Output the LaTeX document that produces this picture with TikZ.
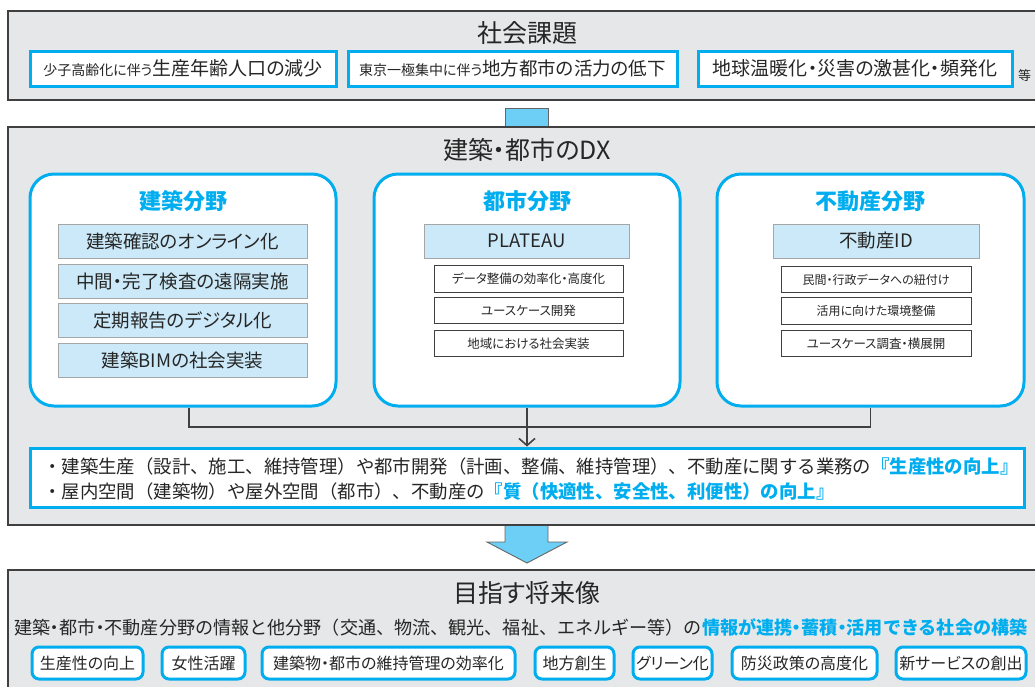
\documentclass[tikz,border=0pt]{standalone}
\usepackage{fontspec}
\usetikzlibrary{arrows.meta}
\setmainfont{Noto Sans CJK JP}[RawFeature={+palt}]
\newfontfamily\fullwidth{Noto Sans CJK JP}
\definecolor{bgray}{HTML}{E6E7E8}
\definecolor{cblue}{HTML}{00AEEF}
\definecolor{lblue}{HTML}{CBE9F8}
\definecolor{ablue}{HTML}{6DCFF6}
\definecolor{dline}{HTML}{404040}
\definecolor{txt}{HTML}{262626}
\tikzset{
  section/.style={draw=dline, line width=1.1pt, fill=bgray, inner sep=0pt},
  sectitle/.style={font=\fontsize{25}{25}\selectfont, inner sep=0pt, text=txt},
  issue/.style={draw=cblue, line width=3pt, fill=white, inner sep=0pt, minimum height=35, text=txt},
  panel/.style={draw=cblue, line width=3pt, fill=white, rounded corners=24pt, inner sep=0pt, minimum height=232},
  ptitle/.style={font=\bfseries\fontsize{22}{22}\selectfont, text=cblue, inner sep=0pt},
  item/.style={draw=black!35, line width=0.8pt, fill=lblue, minimum height=34, inner sep=0pt, text=txt, font=\fontsize{18.5}{18.5}\selectfont},
  subbox/.style={draw=dline, line width=1pt, fill=white, minimum height=26.5, inner sep=0pt, text=txt, font=\fontsize{12.5}{12.5}\selectfont},
  pill/.style={draw=cblue, line width=3pt, fill=white, rounded corners=7pt, minimum height=32, inner sep=0pt, text=txt, font=\fontsize{16}{16}\selectfont},
  plain/.style={inner sep=0pt, text=txt},
  conn/.style={draw=dline, line width=1.6pt},
  blockarrow/.style={fill=ablue, draw=black!60, line width=0.9pt}
}
\newcommand{\fsz}[1]{\fontsize{#1}{#1}\selectfont}
\newcommand{\nd}{{\rmfamily ・}}
\begin{document}
\begin{tikzpicture}[x=1pt,y=-1pt]
\clip (0,0) rectangle (1035,686);
\fill[white] (0,0) rectangle (1035,686);

% ---------- top section ----------
\node[section, minimum width=1037, minimum height=89] (top) at (526.5,55.5) {};
\node[sectitle] (toptitle) at (527,33) {社会課題};
\node[issue, minimum width=306] (i1) at (183,68.5) {{\fsz{14}少子高齢化に伴う}{\fsz{19}生産年齢人口の減少}};
\node[issue, minimum width=329] (i2) at (512.5,68.5) {{\fsz{14}東京一極集中に伴う}{\fsz{18.5}地方都市の活力の低下}};
\node[issue, minimum width=314] (i3) at (855,68.5) {\fsz{19}地球温暖化・災害の激甚化・頻発化};
\node[plain, anchor=west, font=\fsz{13}] (etc) at (1018,76) {等};

\node[blockarrow, minimum width=43, minimum height=20, inner sep=0pt] (link) at (526.5,118) {};

% ---------- middle section ----------
\node[section, minimum width=1037, minimum height=398] (mid) at (526.5,326) {};
\node[sectitle] (midtitle) at (527,150) {建築・都市のDX};

\node[panel, minimum width=306] (p1) at (183,290) {};
\node[panel, minimum width=306] (p2) at (527,290) {};
\node[panel, minimum width=307] (p3) at (870.5,290) {};

\node[ptitle] (t1) at (183,201) {建築分野};
\node[ptitle] (t2) at (527,201) {都市分野};
\node[ptitle] (t3) at (870.5,201) {不動産分野};

\node[item, minimum width=249] (a1) at (182.5,241) {建築確認のオンライン化};
\node[item, minimum width=249] (a2) at (182.5,281) {中間・完了検査の遠隔実施};
\node[item, minimum width=249] (a3) at (182.5,320.5) {定期報告のデジタル化};
\node[item, minimum width=249] (a4) at (182.5,360) {建築BIMの社会実装};

\node[item, minimum width=205] (b0) at (526.5,241) {PLATEAU};
\node[subbox, minimum width=189] (b1) at (528.5,279) {データ整備の効率化・高度化};
\node[subbox, minimum width=189] (b2) at (528.5,310.5) {ユースケース開発};
\node[subbox, minimum width=189] (b3) at (528.5,343.5) {地域における社会実装};

\node[item, minimum width=206] (c0) at (876,241) {不動産ID};
\node[subbox, minimum width=190, font=\fsz{12}] (c1) at (876,279.5) {民間・行政データへの紐付け};
\node[subbox, minimum width=190, font=\fsz{12}] (c2) at (876,311) {活用に向けた環境整備};
\node[subbox, minimum width=190] (c3) at (876,343.5) {ユースケース調査・横展開};

\node[draw=cblue, line width=3pt, fill=white, inner sep=0pt, minimum width=994, minimum height=59] (res) at (527,477.5) {};
\node[plain, anchor=west, font=\fullwidth\fsz{18.4}] (r1) at (43,466.5) {・建築生産（設計、施工、維持管理）や都市開発（計画、整備、維持管理）、不動産に関する業務の{\color{cblue}\bfseries『生産性の向上』}};
\node[plain, anchor=west, font=\fullwidth\fsz{18.4}] (r2) at (43,491) {・屋内空間（建築物）や屋外空間（都市）、不動産の{\color{cblue}\bfseries『質（快適性、安全性、利便性）の向上』}};

\coordinate (j) at (527,427);
\draw[conn] ([xshift=6pt]p1.south) |- (j);
\draw[conn] (p3.south) |- (j);
\draw[conn, -{Straight Barb[length=7pt,width=16pt]}] (p2.south) -- (res.north);

% big arrow
\draw[blockarrow] (505,526) -- (505,542) -- (487,542) -- (527,563) -- (567,542) -- (548,542) -- (548,526);

% ---------- bottom section ----------
\node[section, minimum width=1037, minimum height=130] (bot) at (526.5,635) {};
\node[sectitle] (bottitle) at (527,593) {目指す将来像};
\node[plain, anchor=west, font=\fullwidth\fsz{18.1}] (vision) at (14,627) {建築\nd 都市\nd 不動産分野の情報と他分野（交通、物流、観光、福祉、エネルギー等）の{\color{cblue}\bfseries 情報が連携\nd 蓄積\nd 活用できる社会の構築}};

\node[pill, minimum width=111] (g1) at (87.5,663) {生産性の向上};
\node[pill, minimum width=83] (g2) at (203.5,663) {女性活躍};
\node[pill, minimum width=253] (g3) at (388.5,663) {建築物・都市の維持管理の効率化};
\node[pill, minimum width=79] (g4) at (574.5,663) {地方創生};
\node[pill, minimum width=79] (g5) at (672.5,663) {グリーン化};
\node[pill, minimum width=145] (g6) at (804.5,663) {防災政策の高度化};
\node[pill, minimum width=130] (g7) at (961,663) {新サービスの創出};
\end{tikzpicture}
\end{document}
